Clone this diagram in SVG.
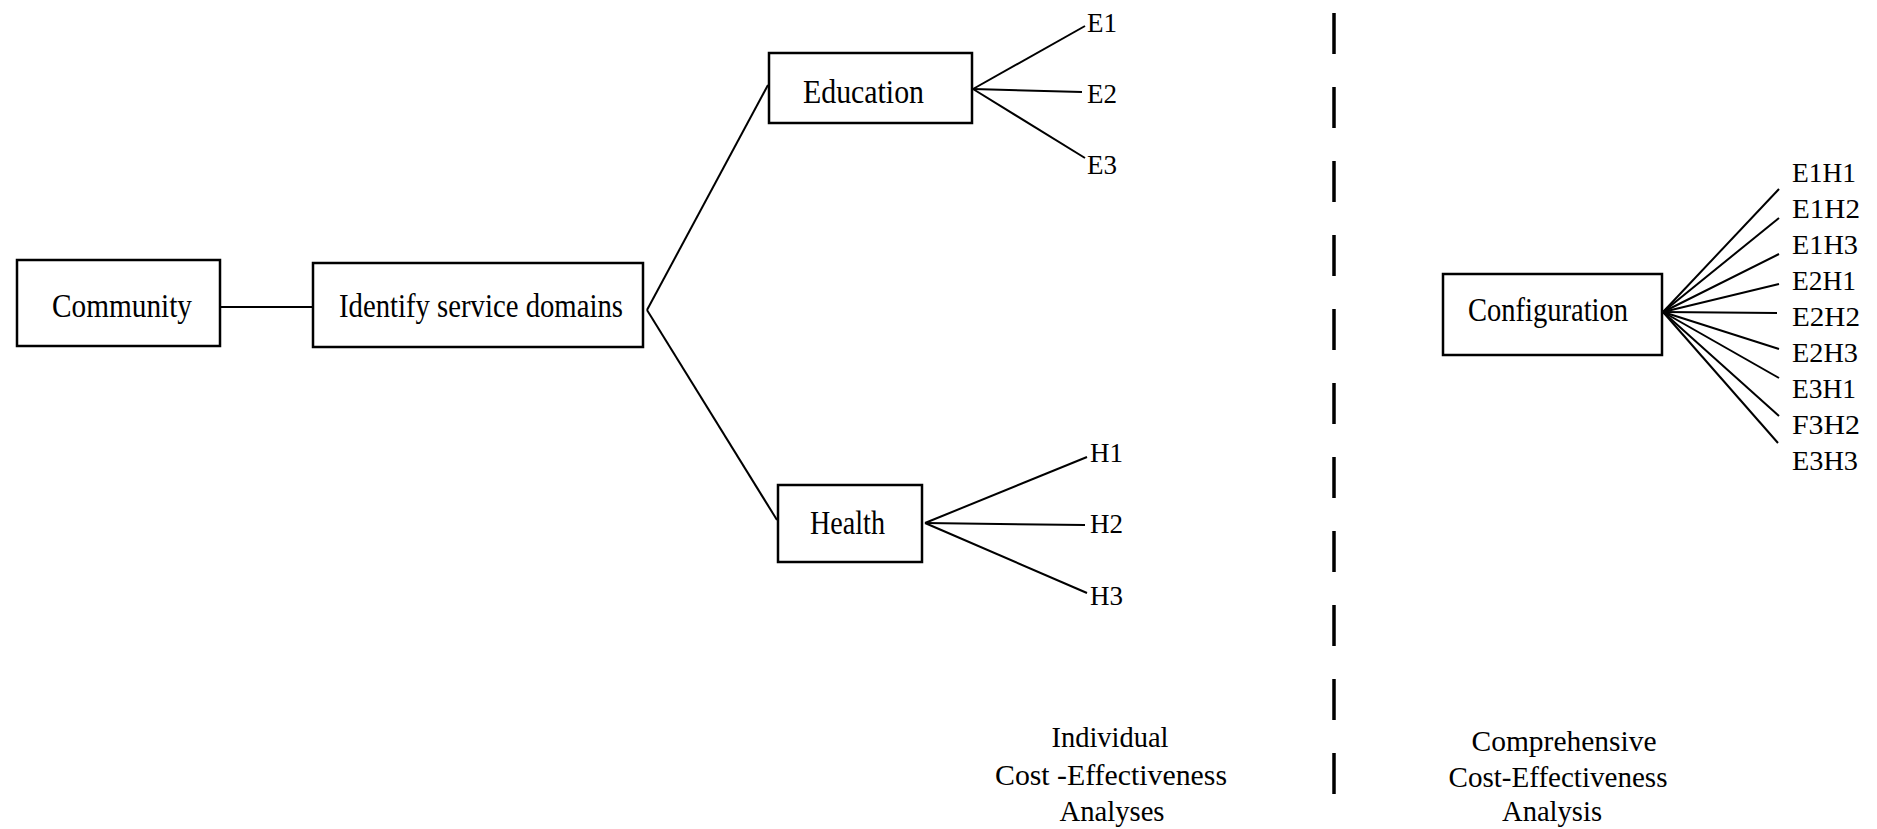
<svg xmlns="http://www.w3.org/2000/svg" width="1877" height="829" viewBox="0 0 1877 829">
<style>
  .box { fill: #ffffff; stroke: #000000; stroke-width: 2.5; }
  .lbl { font-family: "Liberation Serif", "Times New Roman", serif; font-size: 34px; fill: #000000; }
  .leaf { font-family: "Liberation Serif", "Times New Roman", serif; font-size: 27px; fill: #000000; }
  .cap { font-family: "Liberation Serif", "Times New Roman", serif; font-size: 30px; fill: #000000; text-anchor: middle; }
  .conn line { stroke: #000000; stroke-width: 2; }
  .divider { stroke: #000000; stroke-width: 3.5; stroke-dasharray: 41 33; }
</style>
<rect width="1877" height="829" fill="#ffffff"/>
<g id="connectors" class="conn">
  <line x1="220" y1="307" x2="313" y2="307"/>
  <line x1="647" y1="310" x2="768" y2="85"/>
  <line x1="647" y1="310" x2="777" y2="520"/>
  <line x1="973" y1="89" x2="1085" y2="26"/>
  <line x1="973" y1="89" x2="1082" y2="92"/>
  <line x1="973" y1="89" x2="1085" y2="158"/>
  <line x1="925" y1="523" x2="1087" y2="457"/>
  <line x1="925" y1="523" x2="1085" y2="525"/>
  <line x1="925" y1="523" x2="1087" y2="593"/>
  <line x1="1663" y1="312" x2="1779" y2="189"/>
  <line x1="1663" y1="312" x2="1779" y2="218"/>
  <line x1="1663" y1="312" x2="1779" y2="254"/>
  <line x1="1663" y1="312" x2="1779" y2="284"/>
  <line x1="1663" y1="312" x2="1777" y2="313"/>
  <line x1="1663" y1="312" x2="1779" y2="349"/>
  <line x1="1663" y1="312" x2="1779" y2="378"/>
  <line x1="1663" y1="312" x2="1779" y2="416"/>
  <line x1="1663" y1="312" x2="1778" y2="443"/>
</g>
<line id="divider" class="divider" x1="1334" y1="13" x2="1334" y2="794"/>
<g id="community">
  <rect class="box" x="17" y="260" width="203" height="86"/>
  <text class="lbl" x="52" y="317" textLength="140" lengthAdjust="spacingAndGlyphs">Community</text>
</g>
<g id="identify">
  <rect class="box" x="313" y="263" width="330" height="84"/>
  <text class="lbl" x="339" y="317" textLength="284" lengthAdjust="spacingAndGlyphs">Identify service domains</text>
</g>
<g id="education">
  <rect class="box" x="769" y="53" width="203" height="70"/>
  <text class="lbl" x="803" y="103" textLength="121" lengthAdjust="spacingAndGlyphs">Education</text>
</g>
<g id="health">
  <rect class="box" x="778" y="485" width="144" height="77"/>
  <text class="lbl" x="810" y="534" textLength="75" lengthAdjust="spacingAndGlyphs">Health</text>
</g>
<g id="configuration">
  <rect class="box" x="1443" y="274" width="219" height="81"/>
  <text class="lbl" x="1468" y="321" textLength="160" lengthAdjust="spacingAndGlyphs">Configuration</text>
</g>
<g id="e-options">
  <text class="leaf" x="1087" y="32">E1</text>
  <text class="leaf" x="1087" y="103">E2</text>
  <text class="leaf" x="1087" y="174">E3</text>
</g>
<g id="h-options">
  <text class="leaf" x="1090" y="462">H1</text>
  <text class="leaf" x="1090" y="533">H2</text>
  <text class="leaf" x="1090" y="605">H3</text>
</g>
<g id="configurations">
  <text class="leaf" x="1792" y="182" textLength="64" lengthAdjust="spacingAndGlyphs">E1H1</text>
  <text class="leaf" x="1792" y="218" textLength="68" lengthAdjust="spacingAndGlyphs">E1H2</text>
  <text class="leaf" x="1792" y="254" textLength="66" lengthAdjust="spacingAndGlyphs">E1H3</text>
  <text class="leaf" x="1792" y="290" textLength="64" lengthAdjust="spacingAndGlyphs">E2H1</text>
  <text class="leaf" x="1792" y="326" textLength="68" lengthAdjust="spacingAndGlyphs">E2H2</text>
  <text class="leaf" x="1792" y="362" textLength="66" lengthAdjust="spacingAndGlyphs">E2H3</text>
  <text class="leaf" x="1792" y="398" textLength="64" lengthAdjust="spacingAndGlyphs">E3H1</text>
  <text class="leaf" x="1792" y="434" textLength="68" lengthAdjust="spacingAndGlyphs">F3H2</text>
  <text class="leaf" x="1792" y="470" textLength="66" lengthAdjust="spacingAndGlyphs">E3H3</text>
</g>
<g id="individual-caption">
  <text class="cap" x="1110" y="747" textLength="117" lengthAdjust="spacingAndGlyphs">Individual</text>
  <text class="cap" x="1111" y="785" textLength="232" lengthAdjust="spacingAndGlyphs">Cost -Effectiveness</text>
  <text class="cap" x="1112" y="821" textLength="105" lengthAdjust="spacingAndGlyphs">Analyses</text>
</g>
<g id="comprehensive-caption">
  <text class="cap" x="1564" y="751" textLength="185" lengthAdjust="spacingAndGlyphs">Comprehensive</text>
  <text class="cap" x="1558" y="787" textLength="219" lengthAdjust="spacingAndGlyphs">Cost-Effectiveness</text>
  <text class="cap" x="1552" y="821" textLength="100" lengthAdjust="spacingAndGlyphs">Analysis</text>
</g>
</svg>
